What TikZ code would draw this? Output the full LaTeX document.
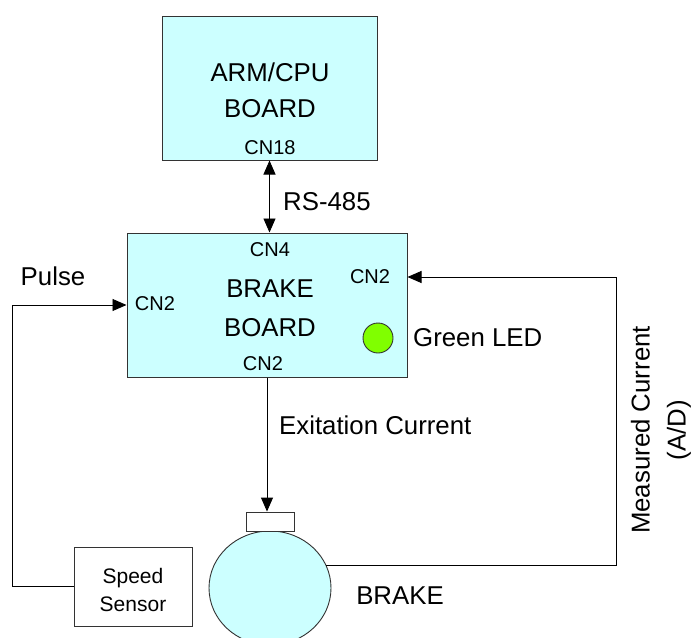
\documentclass[tikz,border=0pt]{standalone}
\usepackage{fontspec}
\setmainfont{Liberation Sans}
\usetikzlibrary{arrows.meta,shapes.geometric}
\definecolor{boardcyan}{RGB}{204,255,255}
\definecolor{ledgreen}{RGB}{128,255,0}
\tikzset{
  >={Triangle[length=14pt,width=12pt]},
  flow/.style={->,draw=black,line width=0.9pt},
  biflow/.style={<->,draw=black,line width=0.9pt},
  flowline/.style={draw=black,line width=0.9pt},
  board/.style={
    draw=black!80,
    fill=boardcyan,
    rectangle,
    line width=1pt,
    inner sep=0pt
  },
  bigtext/.style={font=\fontsize{25.8}{36}\selectfont,align=center,inner sep=0pt},
  cntext/.style={font=\fontsize{20}{22}\selectfont,inner sep=0pt},
  smalltext/.style={font=\fontsize{21}{28}\selectfont,align=center,inner sep=0pt}
}

\begin{document}
\begin{tikzpicture}[x=1pt,y=-1pt]
  \useasboundingbox[fill=white] (0,0) rectangle (693,637);

  % CPU board
  \node[board,minimum width=215pt,minimum height=144pt] (cpu) at (269.5,88) {};
  \node[bigtext] (cputext) at (270,90) {ARM/CPU\\BOARD};
  \node[cntext] (cn18) at (270,148) {CN18};

  % Brake board
  \node[board,minimum width=280pt,minimum height=144pt] (brakeboard) at (267,305) {};
  \node[bigtext,font=\fontsize{25.8}{39}\selectfont] (boardtext) at (270,308) {BRAKE\\BOARD};
  \node[cntext] (cn4) at (270,250) {CN4};
  \node[cntext] (cn2top) at (370,277) {CN2};
  \node[cntext] (cn2left) at (155,304) {CN2};
  \node[cntext] (cn2bottom) at (263,364) {CN2};
  \node[circle,draw=black!80,fill=ledgreen,line width=0.9pt,minimum size=30pt,inner sep=0pt]
    (led) at (378,338) {};
  \node[bigtext,anchor=west] (ledtext) at (413,338) {Green LED};

  % RS-485 link
  \draw[biflow] (cpu.south) -- (cpu.south |- brakeboard.north);
  \node[bigtext,anchor=west] (rs485) at (283,202) {RS-485};

  % Brake
  \node[ellipse,draw=black!80,fill=boardcyan,line width=0.9pt,
    minimum width=122pt,minimum height=114pt,inner sep=0pt] (brake) at (270,588) {};
  \node[rectangle,draw=black!80,fill=white,line width=0.9pt,
    minimum width=48pt,minimum height=19pt,inner sep=0pt] (cap) at (270,521.5) {};
  \node[bigtext] (braketext) at (400,596) {BRAKE};
  \draw[flow] (brakeboard.south) -- (brakeboard.south |- cap.north);
  \node[bigtext,anchor=west] (exitation) at (279,425) {Exitation Current};

  % Speed sensor feedback
  \node[rectangle,draw=black!80,line width=0.9pt,minimum width=118pt,minimum height=79pt,
    inner sep=0pt] (sensor) at (133,586.5) {};
  \node[smalltext] (sensortext) at (133,590) {Speed\\Sensor};
  \coordinate (pulsecorner) at (12,586.5);
  \draw[flowline] (sensor.west) -- (pulsecorner);
  \draw[flow] (pulsecorner) |- (brakeboard.west);
  \node[bigtext] (pulse) at (53,276) {Pulse};

  % Measured current feedback
  \coordinate (mcorner) at (616,277);
  \draw[flowline] (brake.22.4) -| (mcorner);
  \draw[flow] (mcorner) -- (mcorner -| brakeboard.east);
  \node[bigtext,font=\fontsize{25.8}{36}\selectfont,rotate=90] (measured) at (661,430)
    {Measured Current\\(A/D)};
\end{tikzpicture}
\end{document}
